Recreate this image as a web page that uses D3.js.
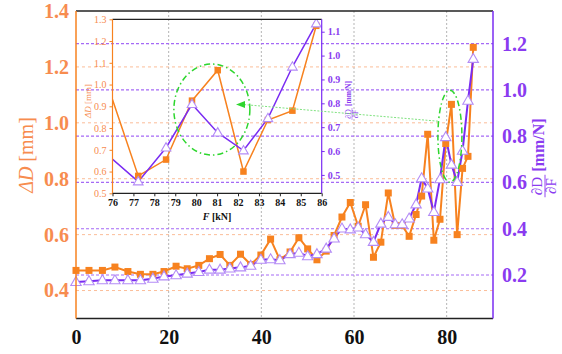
<!DOCTYPE html>
<html>
<head>
<meta charset="utf-8">
<script src="https://cdn.jsdelivr.net/npm/d3@7"></script>
<style>
  body { margin: 0; background: #fff; }
  svg { display: block; font-family: "Liberation Serif", "Times New Roman", serif; }
</style>
</head>
<body>
<svg width="562" height="354"></svg>
<script>
// load F [kN]
var forceKN = [0, 2.8, 5.7, 8.4, 11.2, 13.9, 16.6, 19.0, 21.6, 24.0, 26.5, 28.8, 31.1, 33.2, 35.5, 37.7,
    39.9, 42.0, 44.0, 46.2, 48.1, 50.0, 52.0, 54.0, 55.7, 57.4, 59.2, 60.9, 62.5, 64.2, 65.8, 67.4,
    68.9, 70.4, 71.9, 73.4, 74.6, 75.9, 77.23, 78.56, 79.8, 81.03, 82.26, 83.43, 84.6, 85.74]
// deflection ΔD [mm]
var deltaD = [0.472, 0.472, 0.472, 0.484, 0.468, 0.458, 0.458, 0.468, 0.487, 0.478, 0.490, 0.514, 0.529, 0.490, 0.530, 0.493,
    0.527, 0.584, 0.510, 0.538, 0.589, 0.549, 0.510, 0.541, 0.597, 0.663, 0.715, 0.630, 0.707, 0.519, 0.573, 0.749,
    0.633, 0.633, 0.594, 0.672, 0.738, 0.959, 0.580, 0.655, 0.926, 1.066, 0.600, 0.837, 0.880, 1.270]
// compliance ∂D/∂F [mm/N]
var dDdF = [0.170, 0.173, 0.177, 0.177, 0.177, 0.177, 0.184, 0.194, 0.199, 0.206, 0.213, 0.223, 0.223, 0.228, 0.233, 0.240,
    0.266, 0.268, 0.264, 0.290, 0.296, 0.281, 0.290, 0.314, 0.358, 0.401, 0.397, 0.405, 0.376, 0.343, 0.422, 0.451,
    0.419, 0.419, 0.444, 0.505, 0.618, 0.574, 0.472, 0.614, 0.796, 0.677, 0.602, 0.737, 0.953, 1.134]

var xTicks = [0, 20, 40, 60, 80]
var leftTicks = [0.4, 0.6, 0.8, 1.0, 1.2, 1.4]
var rightTicks = [0.2, 0.4, 0.6, 0.8, 1.0, 1.2]
var insetXTicks = [76, 77, 78, 79, 80, 81, 82, 83, 84, 85, 86]
var insetLeftTicks = [0.5, 0.6, 0.7, 0.8, 0.9, 1.0, 1.1, 1.2, 1.3]
var insetRightTicks = [0.5, 0.6, 0.7, 0.8, 0.9, 1.0, 1.1]

var ORANGE = "#f7821f", ORANGE_TXT = "#f78c4f", ORANGE_GRID = "#fbbd98"
var PURPLE = "#7a2cf2", PURPLE_TXT = "#8a3bf0", PURPLE_GRID = "#a56af6", TRI = "#b48cf6"
var GREEN = "#2ed62e"
var SERIF = "'Liberation Serif', 'Times New Roman', serif"

var pts = forceKN.map(function(f, i) { return { f: f, d: deltaD[i], c: dDdF[i] } })

var svg = d3.select("svg")
var plot = { left: 76, right: 493, top: 11, bottom: 318.5 }

var x = d3.scaleLinear().domain([0, 90]).range([plot.left, plot.right])
var yL = d3.scaleLinear().domain([0.3, 1.4]).range([plot.bottom, plot.top])
var yR = d3.scaleLinear().domain([0.012, 1.341]).range([plot.bottom, plot.top])

// grid
var grid = svg.append("g")
grid.selectAll(".vg").data(xTicks.slice(1)).enter().append("line")
    .attr("x1", d => x(d)).attr("x2", d => x(d))
    .attr("y1", plot.top).attr("y2", plot.bottom)
    .attr("stroke", "#b5b5b5").attr("stroke-width", 1).attr("stroke-dasharray", "2,2")
grid.selectAll(".og").data(leftTicks.slice(0, -1)).enter().append("line")
    .attr("x1", plot.left).attr("x2", plot.right)
    .attr("y1", d => yL(d)).attr("y2", d => yL(d))
    .attr("stroke", ORANGE_GRID).attr("stroke-width", 1).attr("stroke-dasharray", "3,3")
grid.selectAll(".pg").data(rightTicks).enter().append("line")
    .attr("x1", plot.left).attr("x2", plot.right)
    .attr("y1", d => yR(d)).attr("y2", d => yR(d))
    .attr("stroke", PURPLE_GRID).attr("stroke-width", 1.2).attr("stroke-dasharray", "3,2")

function drawSeries(g, data, xs, ysL, ysR, lw, ms) {
    var lineD = d3.line().x(d => xs(d.f)).y(d => ysL(d.d))
    var lineC = d3.line().x(d => xs(d.f)).y(d => ysR(d.c))
    g.append("path").attr("d", lineD(data)).attr("fill", "none")
        .attr("stroke", ORANGE).attr("stroke-width", lw)
    g.append("path").attr("d", lineC(data)).attr("fill", "none")
        .attr("stroke", PURPLE).attr("stroke-width", lw)
    return function(markData) {
        g.selectAll(".sq").data(markData).enter().append("rect")
            .attr("x", d => xs(d.f) - ms / 2).attr("y", d => ysL(d.d) - ms / 2)
            .attr("width", ms).attr("height", ms).attr("fill", ORANGE)
        var tri = d3.symbol().type(d3.symbolTriangle).size(ms * ms * 0.95)
        g.selectAll(".tr").data(markData).enter().append("path")
            .attr("d", tri)
            .attr("transform", d => "translate(" + xs(d.f) + "," + (ysR(d.c) + 0.5) + ")")
            .attr("fill", "#fff").attr("stroke", TRI).attr("stroke-width", 1.1)
    }
}

// inset scales
var ip = { left: 112.5, right: 321.7, top: 19.3, bottom: 193.3 }
var ix = d3.scaleLinear().domain([76, 86]).range([ip.left, ip.right])
var iyL = d3.scaleLinear().domain([0.5, 1.3]).range([ip.bottom, ip.top])
var iyR = d3.scaleLinear().domain([0.423, 1.152]).range([ip.bottom, ip.top])

// main series
var mainG = svg.append("g")
drawSeries(mainG, pts, x, yL, yR, 2, 7)(pts)

// main frame
svg.append("line").attr("x1", plot.left).attr("x2", plot.right).attr("y1", plot.top).attr("y2", plot.top)
    .attr("stroke", "#222").attr("stroke-width", 1.5)
svg.append("line").attr("x1", plot.left).attr("x2", plot.right).attr("y1", plot.bottom).attr("y2", plot.bottom)
    .attr("stroke", "#222").attr("stroke-width", 1.5)
svg.append("line").attr("x1", plot.left).attr("x2", plot.left).attr("y1", plot.top).attr("y2", plot.bottom)
    .attr("stroke", ORANGE).attr("stroke-width", 1.5)
svg.append("line").attr("x1", plot.right).attr("x2", plot.right).attr("y1", plot.top).attr("y2", plot.bottom)
    .attr("stroke", PURPLE).attr("stroke-width", 1.5)

// main axes
var axL = svg.append("g").attr("transform", "translate(" + plot.left + ",0)")
    .call(d3.axisLeft(yL).tickValues(leftTicks).tickSize(0).tickPadding(7).tickFormat(d3.format(".1f")))
axL.select(".domain").remove()
axL.selectAll("text").attr("fill", ORANGE_TXT).attr("font-size", 20).attr("font-weight", "bold")
    .attr("font-family", SERIF)

var axR = svg.append("g").attr("transform", "translate(" + plot.right + ",0)")
    .call(d3.axisRight(yR).tickValues(rightTicks).tickSize(0).tickPadding(9).tickFormat(d3.format(".1f")))
axR.select(".domain").remove()
axR.selectAll("text").attr("fill", PURPLE_TXT).attr("font-size", 20).attr("font-weight", "bold")
    .attr("font-family", SERIF)

var axB = svg.append("g").attr("transform", "translate(0," + plot.bottom + ")")
    .call(d3.axisBottom(x).tickValues(xTicks).tickSize(0).tickPadding(11).tickFormat(d3.format("d")))
axB.select(".domain").remove()
axB.selectAll("text").attr("fill", "#111").attr("font-size", 20).attr("font-weight", "bold")
    .attr("font-family", SERIF)

// main axis titles
var lt = svg.append("text").attr("transform", "translate(33,155) rotate(-90)")
    .attr("text-anchor", "middle").attr("fill", ORANGE_TXT).attr("font-size", 20)
lt.append("tspan").attr("font-style", "italic").text("ΔD")
lt.append("tspan").text(" [mm]")

function derivLabel(tx, ty, fs, fsUnit, gap, color) {
    var g = svg.append("g").attr("transform", "translate(" + tx + "," + ty + ") rotate(-90)")
        .attr("fill", color)
    g.append("text").attr("x", 0).attr("y", -fs * 0.18).attr("text-anchor", "middle")
        .attr("font-size", fs).text("∂D")
    g.append("line").attr("x1", -fs * 0.75).attr("x2", fs * 0.75).attr("y1", 0).attr("y2", 0)
        .attr("stroke", color).attr("stroke-width", fs / 16)
    g.append("text").attr("x", 0).attr("y", fs * 0.74).attr("text-anchor", "middle")
        .attr("font-size", fs).text("∂F")
    g.append("text").attr("x", fs * 0.75 + gap).attr("y", -fs * 0.1).attr("text-anchor", "start")
        .attr("font-size", fsUnit).attr("font-weight", "bold").text("[mm/N]")
}
derivLabel(545, 186, 15, 16, 3, PURPLE_TXT)

// main ellipse
svg.append("ellipse").attr("cx", x(80.7)).attr("cy", yR(0.8)).attr("rx", 12).attr("ry", 46)
    .attr("fill", "none").attr("stroke", GREEN).attr("stroke-width", 1.5).attr("stroke-dasharray", "6,3,1.5,3")

// ---------- inset ----------
var inset = svg.append("g")
var clipId = "inclip"
svg.append("defs").append("clipPath").attr("id", clipId).append("rect")
    .attr("x", ip.left).attr("y", ip.top).attr("width", ip.right - ip.left).attr("height", ip.bottom - ip.top)
var inG = inset.append("g").attr("clip-path", "url(#" + clipId + ")")
var inPts = pts.filter(d => d.f >= 75)
drawSeries(inG, inPts, ix, iyL, iyR, 1.5, 6.5)(inPts.filter(d => d.f >= 76))

inset.append("line").attr("x1", ip.left).attr("x2", ip.right).attr("y1", ip.top).attr("y2", ip.top)
    .attr("stroke", "#222").attr("stroke-width", 1.2)
inset.append("line").attr("x1", ip.left).attr("x2", ip.right).attr("y1", ip.bottom).attr("y2", ip.bottom)
    .attr("stroke", "#222").attr("stroke-width", 1.2)
inset.append("line").attr("x1", ip.left).attr("x2", ip.left).attr("y1", ip.top).attr("y2", ip.bottom)
    .attr("stroke", ORANGE).attr("stroke-width", 1.2)
inset.append("line").attr("x1", ip.right).attr("x2", ip.right).attr("y1", ip.top).attr("y2", ip.bottom)
    .attr("stroke", PURPLE).attr("stroke-width", 1.2)

var iaL = inset.append("g").attr("transform", "translate(" + ip.left + ",0)")
    .call(d3.axisLeft(iyL).tickValues(insetLeftTicks).tickSize(3).tickPadding(3).tickFormat(d3.format(".1f")))
iaL.select(".domain").remove()
iaL.selectAll("line").attr("stroke", ORANGE)
iaL.selectAll("text").attr("fill", ORANGE_TXT).attr("font-size", 10).attr("font-family", SERIF)

var iaR = inset.append("g").attr("transform", "translate(" + ip.right + ",0)")
    .call(d3.axisRight(iyR).tickValues(insetRightTicks).tickSize(3).tickPadding(3).tickFormat(d3.format(".1f")))
iaR.select(".domain").remove()
iaR.selectAll("line").attr("stroke", PURPLE)
iaR.selectAll("text").attr("fill", PURPLE_TXT).attr("font-size", 10).attr("font-weight", "bold")
    .attr("font-family", SERIF)

var iaB = inset.append("g").attr("transform", "translate(0," + ip.bottom + ")")
    .call(d3.axisBottom(ix).tickValues(insetXTicks).tickSize(3).tickPadding(3).tickFormat(d3.format("d")))
iaB.select(".domain").remove()
iaB.selectAll("line").attr("stroke", "#222")
iaB.selectAll("text").attr("fill", "#111").attr("font-size", 10).attr("font-weight", "bold")
    .attr("font-family", SERIF)

var ft = inset.append("text").attr("x", (ip.left + ip.right) / 2).attr("y", 220)
    .attr("text-anchor", "middle").attr("font-size", 10).attr("font-weight", "bold").attr("fill", "#111")
ft.append("tspan").attr("font-style", "italic").text("F")
ft.append("tspan").text(" [kN]")

var ilt = inset.append("text").attr("transform", "translate(91,101) rotate(-90)")
    .attr("text-anchor", "middle").attr("fill", ORANGE_TXT).attr("font-size", 9)
ilt.append("tspan").attr("font-style", "italic").text("ΔD")
ilt.append("tspan").text(" [mm]")

derivLabel(352, 114, 8, 7.5, 2, PURPLE_TXT)

// inset ellipse and pointer
inset.append("ellipse").attr("cx", ix(80.75)).attr("cy", iyL(0.885)).attr("rx", 38).attr("ry", 45.5)
    .attr("fill", "none").attr("stroke", GREEN).attr("stroke-width", 1.5).attr("stroke-dasharray", "6,3,1.5,3")
svg.append("line").attr("x1", x(80.7) - 12).attr("y1", yR(0.8) - 15).attr("x2", 243).attr("y2", 104.5)
    .attr("stroke", "#7fe27f").attr("stroke-width", 1).attr("stroke-dasharray", "2,1.5")
svg.append("path").attr("d", "M236,104.5 L245,101 L245,108 Z").attr("fill", GREEN)
</script>
</body>
</html>
